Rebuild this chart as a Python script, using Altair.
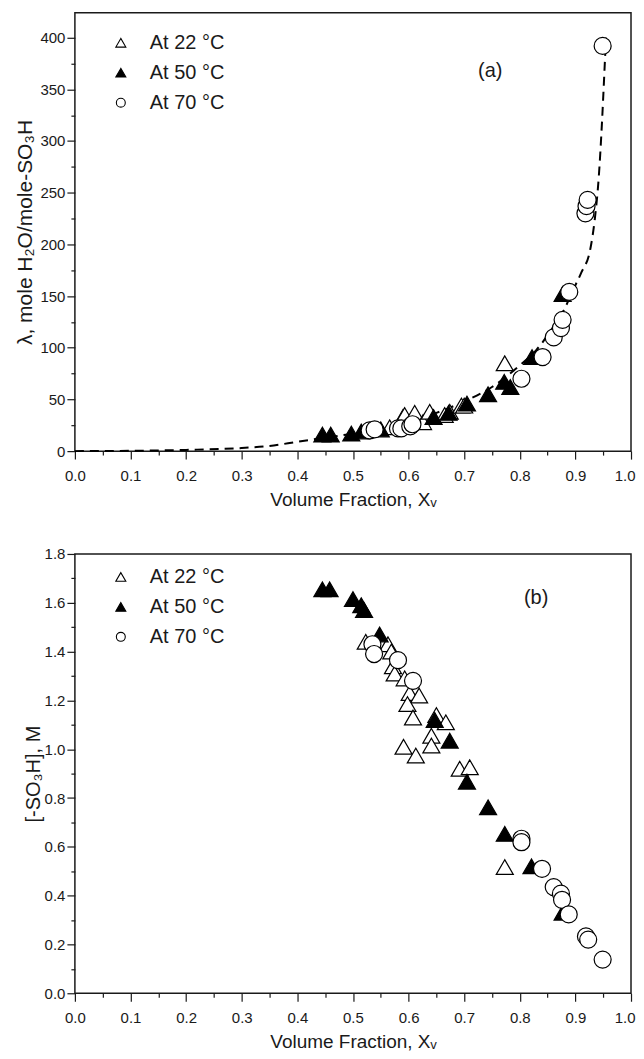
import altair as alt
import pandas as pd

SERIES = ["At 22 °C", "At 50 °C", "At 70 °C"]
SHAPES = ["triangle-up", "triangle-up", "circle"]
FILLS = ["#ffffff", "#000000", "#ffffff"]

# ---- Panel (a): lambda (mole H2O / mole SO3H) vs volume fraction
a22_x = [0.566, 0.590, 0.593, 0.611, 0.626, 0.638, 0.665, 0.674, 0.695, 0.700, 0.773]
a22_y = [23, 33, 35, 37, 28, 38, 35, 38, 44, 44, 85]
a50_x = [0.445, 0.460, 0.497, 0.515, 0.550, 0.645, 0.672, 0.705, 0.743, 0.772, 0.783, 0.822, 0.877]
a50_y = [16, 16, 17, 19, 21, 33, 37, 46, 55, 67, 62, 91, 152]
a70_x = [0.530, 0.539, 0.581, 0.587, 0.603, 0.607, 0.803, 0.841, 0.861, 0.874, 0.877, 0.889,
         0.918, 0.920, 0.922, 0.949]
a70_y = [20, 21, 22, 22, 24, 26, 70, 91, 110, 119, 127, 154, 230, 237, 243, 392]

# dashed model curve
fit_x = [0.0, 0.1, 0.2, 0.3, 0.35, 0.4, 0.45, 0.5, 0.55, 0.6, 0.65, 0.7, 0.75, 0.8, 0.83, 0.86,
         0.88, 0.895, 0.91, 0.927, 0.935, 0.942, 0.948, 0.952, 0.955]
fit_y = [0, 0.3, 1.2, 3, 5, 9, 13, 17, 22, 28, 37, 48, 62, 83, 98, 120,
         137, 155, 172, 196, 225, 265, 320, 365, 400]

# ---- Panel (b): [-SO3H] (M) vs volume fraction
b22_x = [0.523, 0.563, 0.569, 0.572, 0.575, 0.593, 0.602, 0.619, 0.598, 0.608, 0.650, 0.667,
         0.641, 0.641, 0.591, 0.613, 0.692, 0.710, 0.773]
b22_y = [1.44, 1.43, 1.40, 1.34, 1.31, 1.29, 1.23, 1.22, 1.185, 1.13, 1.14, 1.11,
         1.055, 1.015, 1.01, 0.974, 0.92, 0.926, 0.517]
b50_x = [0.445, 0.458, 0.500, 0.515, 0.520, 0.548, 0.647, 0.674, 0.705, 0.743, 0.773, 0.821, 0.877]
b50_y = [1.655, 1.655, 1.615, 1.59, 1.57, 1.47, 1.12, 1.035, 0.867, 0.762, 0.653, 0.52, 0.33]
b70_x = [0.535, 0.538, 0.581, 0.608, 0.803, 0.803, 0.840, 0.861, 0.874, 0.876, 0.888, 0.919,
         0.923, 0.949]
b70_y = [1.43, 1.39, 1.365, 1.28, 0.633, 0.619, 0.51, 0.435, 0.408, 0.383, 0.323, 0.233,
         0.22, 0.138]

x_ticks = [0.0, 0.1, 0.2, 0.3, 0.4, 0.5, 0.6, 0.7, 0.8, 0.9, 1.0]
x_minor = [0.05, 0.15, 0.25, 0.35, 0.45, 0.55, 0.65, 0.75, 0.85, 0.95]
ya_ticks = [0, 50, 100, 150, 200, 250, 300, 350, 400]
ya_minor = [25, 75, 125, 175, 225, 275, 325, 375]
yb_ticks = [0.0, 0.2, 0.4, 0.6, 0.8, 1.0, 1.2, 1.4, 1.6, 1.8]
yb_minor = [0.1, 0.3, 0.5, 0.7, 0.9, 1.1, 1.3, 1.5, 1.7]

FONT = "Liberation Sans"
INK = "#1a1a1a"


def frame(xs_list, ys_list):
    rows = []
    for name, xs, ys in zip(SERIES, xs_list, ys_list):
        for xv, yv in zip(xs, ys):
            rows.append({"x": xv, "y": yv, "series": name})
    return pd.DataFrame(rows)


shape_scale = alt.Scale(domain=SERIES, range=SHAPES)
fill_scale = alt.Scale(domain=SERIES, range=FILLS)
size_scale = alt.Scale(domain=SERIES, range=[290, 290, 210])
x_scale = alt.Scale(domain=[0, 1.0], nice=False, zero=False)

LAST = "datum.value >= 0.999"


def main_x_axis():
    return alt.Axis(values=x_ticks, format=".1f", title="Volume Fraction, Xᵥ", orient="bottom",
                    tickSize=8, tickWidth=1.2, tickColor=INK, labelFontSize=15, labelPadding=9,
                    labelColor=INK, titleFontSize=19, titlePadding=7, titleColor=INK,
                    titleFontWeight="normal", domain=False, grid=False, labelFlush=False,
                    labelOverlap=False,
                    labelAlign={"condition": {"test": LAST, "value": "right"}, "value": "center"},
                    labelOffset={"condition": {"test": LAST, "value": 4}, "value": 0})


def minor_x_axis():
    return alt.Axis(values=x_minor, labels=False, title=None, orient="bottom", tickSize=4,
                    tickWidth=1.2, tickColor=INK, domain=False, grid=False)


def legend_layers(row_y):
    out = []
    for i, name in enumerate(SERIES):
        d = pd.DataFrame({"series": [name]})
        out.append(
            alt.Chart(d).mark_point(shape=SHAPES[i], filled=True, fill=FILLS[i], stroke="black",
                                    strokeWidth=1.1, opacity=1,
                                    size=100 if SHAPES[i] != "circle" else 80).encode(
                x=alt.value(46), y=alt.value(row_y[i]))
        )
        out.append(
            alt.Chart(d).mark_text(font=FONT, fontSize=20, color=INK, align="left",
                                   baseline="middle").encode(
                text="series:N", x=alt.value(75), y=alt.value(row_y[i]))
        )
    return out


def panel(df, y_scale, y_axis, y_minor_vals, row_y, tag, tag_x, tag_y, curve=None, height=440):
    layers = []
    if curve is not None:
        layers.append(
            alt.Chart(curve).mark_line(color="black", strokeWidth=2, strokeDash=[9, 6],
                                       interpolate="monotone").encode(
                x=alt.X("x:Q", scale=x_scale, axis=None),
                y=alt.Y("y:Q", scale=y_scale, axis=None),
            )
        )
    layers.append(
        alt.Chart(df).mark_point(filled=True, stroke="black", strokeWidth=1.2, opacity=1).encode(
            x=alt.X("x:Q", scale=x_scale, axis=main_x_axis()),
            y=alt.Y("y:Q", scale=y_scale, axis=y_axis),
            shape=alt.Shape("series:N", scale=shape_scale, legend=None),
            fill=alt.Fill("series:N", scale=fill_scale, legend=None),
            size=alt.Size("series:N", scale=size_scale, legend=None),
        )
    )
    layers.append(
        alt.Chart(df).mark_point(opacity=0).encode(
            x=alt.X("x:Q", scale=x_scale, axis=minor_x_axis()),
            y=alt.Y("y:Q", scale=y_scale,
                    axis=alt.Axis(values=y_minor_vals, labels=False, title=None, orient="left",
                                  tickSize=4, tickWidth=1.2, tickColor=INK, domain=False,
                                  grid=False)),
        )
    )
    layers.extend(legend_layers(row_y))
    layers.append(
        alt.Chart(pd.DataFrame({"t": [tag]})).mark_text(
            font=FONT, fontSize=20, color=INK, align="center", baseline="middle"
        ).encode(text="t:N", x=alt.value(tag_x), y=alt.value(tag_y))
    )
    return alt.layer(*layers).resolve_axis(x="independent", y="independent").properties(
        width=557, height=height)


df_a = frame([a22_x, a50_x, a70_x], [a22_y, a50_y, a70_y])
df_b = frame([b22_x, b50_x, b70_x], [b22_y, b50_y, b70_y])
curve_df = pd.DataFrame({"x": fit_x, "y": fit_y})

ya_axis = alt.Axis(values=ya_ticks, format="d", title="λ, mole H₂O/mole-SO₃H", orient="left",
                   tickSize=8, tickWidth=1.2, tickColor=INK, labelFontSize=15, labelPadding=2,
                   labelColor=INK, titleFontSize=21, titlePadding=4, titleColor=INK,
                   titleFontWeight="normal", domain=False, grid=False, labelFlush=False)
yb_axis = alt.Axis(values=yb_ticks, format=".1f", title="[-SO₃H], M", orient="left",
                   tickSize=8, tickWidth=1.2, tickColor=INK, labelFontSize=15, labelPadding=2,
                   labelColor=INK, titleFontSize=20, titlePadding=1, titleColor=INK,
                   titleFontWeight="normal", domain=False, grid=False, labelFlush=False)

panel_a = panel(df_a, alt.Scale(domain=[0, 424], nice=False, zero=False), ya_axis, ya_minor,
                [30, 60, 90], "(a)", 416, 58, curve=curve_df, height=439)
panel_b = panel(df_b, alt.Scale(domain=[0, 1.8], nice=False, zero=False), yb_axis, yb_minor,
                [23, 53, 83], "(b)", 462, 44, height=440)

chart = alt.vconcat(panel_a, panel_b, spacing=36).properties(
    padding={"left": 6, "top": 3, "right": 0, "bottom": 0}
).configure(font=FONT).configure_view(stroke=INK, strokeWidth=1.5).configure_axis(
    labelFont=FONT, titleFont=FONT
)

chart.save("out.html", embed_options={"renderer": "svg", "actions": False})
